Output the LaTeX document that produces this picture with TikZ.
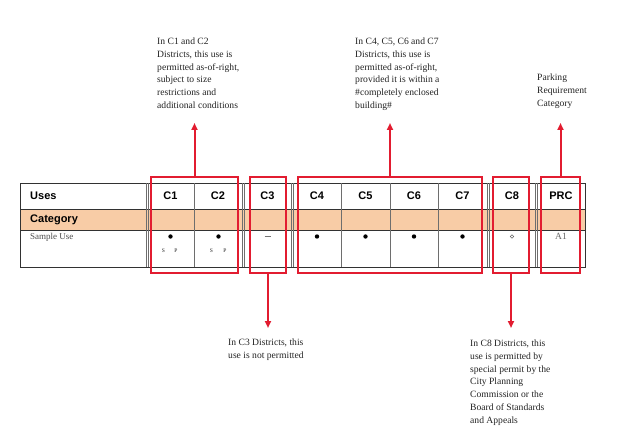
\documentclass[tikz,border=0pt]{standalone}
\usepackage{fontspec}
\setmainfont{Liberation Serif}
\newfontfamily\hdr{Liberation Sans}
\usetikzlibrary{arrows.meta}
\definecolor{zred}{RGB}{226,28,48}
\definecolor{peach}{RGB}{248,204,166}
\definecolor{tline}{RGB}{50,50,50}
\definecolor{vline}{RGB}{110,110,110}
\definecolor{txt}{RGB}{35,35,35}
\tikzset{
  redbox/.style={draw=zred, line width=2pt, minimum height=96pt, inner sep=0pt},
  redarrow/.style={draw=zred, line width=2pt, -{Triangle[length=7pt,width=6pt]}},
  note/.style={align=left, anchor=north west, inner sep=0pt, text=txt,
    font=\fontsize{9.6}{12.7}\selectfont},
  hcell/.style={font=\hdr\bfseries\fontsize{11}{13}\selectfont, inner sep=0pt},
  cellmark/.style={inner sep=0pt},
  sp/.style={inner sep=0pt, font=\fontsize{5.5}{6}\selectfont, text=txt},
  vl/.style={draw=vline, line width=0.6pt},
  hl/.style={draw=tline, line width=0.9pt}
}
\begin{document}
\begin{tikzpicture}[x=1pt,y=-1pt]
\useasboundingbox (0,0) rectangle (618,441);
% category band
\fill[peach] (20,209) rectangle (585,230);
% horizontal lines
\draw[hl] (20,183) rectangle (585,267);
\draw[hl] (20,209) -- (585,209);
\draw[hl] (20,230) -- (585,230);
% vertical lines
\foreach \x in {146,148,194,242,244,291,293,341,390,438,487,489,535,537}
  \draw[vl] (\x,183) -- (\x,267);
% header texts
\node[hcell, anchor=west] (uses) at (30,196) {Uses};
\node[hcell] (c1) at (170.5,196) {C1};
\node[hcell] (c2) at (218,196) {C2};
\node[hcell] (c3) at (267.5,196) {C3};
\node[hcell] (c4) at (317,196) {C4};
\node[hcell] (c5) at (365.5,196) {C5};
\node[hcell] (c6) at (414,196) {C6};
\node[hcell] (c7) at (462.5,196) {C7};
\node[hcell] (c8) at (512,196) {C8};
\node[hcell] (prc) at (561,196) {PRC};
\node[hcell, anchor=west] (cat) at (30,219.5) {Category};
\node[anchor=west, inner sep=0pt, text=black!70, font=\fontsize{9}{10}\selectfont] (sample) at (30,237) {Sample Use};
% marks
\node[cellmark] (m1) at (170.5,236.5) {\tikz\fill circle (2.2pt);};
\node[sp] (s1) at (163.5,251) {S};
\node[sp] (p1) at (176,251) {P};
\node[cellmark] (m2) at (218.5,236.5) {\tikz\fill circle (2.2pt);};
\node[sp] (s2) at (211.5,251) {S};
\node[sp] (p2) at (225,251) {P};
\node[cellmark] (m3) at (267.5,236.5) {\tikz\draw[black!55, line width=0.7pt] (0,0) -- (6pt,0);};
\node[cellmark] (m4) at (317,236.5) {\tikz\fill circle (2.2pt);};
\node[cellmark] (m5) at (365.5,236.5) {\tikz\fill circle (2.2pt);};
\node[cellmark] (m6) at (414,236.5) {\tikz\fill circle (2.2pt);};
\node[cellmark] (m7) at (462.5,236.5) {\tikz\fill circle (2.2pt);};
\node[cellmark] (m8) at (512,236.5) {\tikz\draw[black!60, line width=0.5pt] circle (1.8pt);};
\node[inner sep=0pt, text=black!60, font=\fontsize{9.5}{10}\selectfont] (a1) at (561,236.5) {A1};
% red boxes
\node[redbox, minimum width=87pt] (b12) at (194.5,225) {};
\node[redbox, minimum width=36pt] (b3) at (268,225) {};
\node[redbox, minimum width=184pt] (b47) at (390,225) {};
\node[redbox, minimum width=36pt] (b8) at (511,225) {};
\node[redbox, minimum width=39pt] (bp) at (560.5,225) {};
% notes
\node[note] (n12) at (157,38) {In C1 and C2\\Districts, this use is\\permitted as-of-right,\\subject to size\\restrictions and\\additional conditions};
\node[note] (n47) at (355,38) {In C4, C5, C6 and C7\\Districts, this use is\\permitted as-of-right,\\provided it is within a\\\#completely enclosed\\building\#};
\node[note] (np) at (537,74) {Parking\\Requirement\\Category};
\node[note] (n3) at (228,339) {In C3 Districts, this\\use is not permitted};
\node[note] (n8) at (470,340) {In C8 Districts, this\\use is permitted by\\special permit by the\\City Planning\\Commission or the\\Board of Standards\\and Appeals};
% arrow tips
\coordinate (t12) at (194.5,123);
\coordinate (t47) at (390,123);
\coordinate (tp) at (560.5,123);
\coordinate (t3) at (268,328);
\coordinate (t8) at (511,328);
\draw[redarrow] (b12.north) -- (t12);
\draw[redarrow] (b47.north) -- (t47);
\draw[redarrow] (bp.north) -- (tp);
\draw[redarrow] (b3.south) -- (t3);
\draw[redarrow] (b8.south) -- (t8);
\end{tikzpicture}
\end{document}
